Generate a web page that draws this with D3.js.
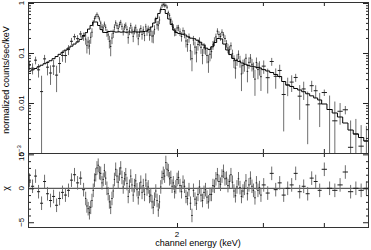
<!DOCTYPE html>
<html><head><meta charset="utf-8">
<script src="https://cdn.jsdelivr.net/npm/d3@7"></script>
<style>body{margin:0;background:#fff}svg{display:block}text{font-family:"Liberation Sans",Arial,sans-serif;fill:#000}</style>
</head><body>
<svg id="c" width="371" height="250"></svg>
<script>
// ---- data ----
// model bins (keV edges) and model values
const modelEdges = [0.990,1.004,1.019,1.033,1.048,1.063,1.078,1.093,1.109,1.125,1.141,1.157,1.173,1.190,1.207,1.224,1.242,1.260,1.278,1.296,
1.311,1.327,1.343,1.359,1.375,1.391,1.408,1.424,1.441,1.458,1.476,1.493,1.511,1.529,1.547,1.566,1.584,1.603,1.622,1.641,1.661,1.681,1.701,1.721,1.741,1.762,1.783,1.804,1.826,1.847,1.869,1.892,1.914,1.937,1.960,1.983,2.007,
2.036,2.065,2.094,2.124,2.154,2.185,2.216,2.248,2.280,2.312,2.345,2.378,2.412,2.447,2.482,2.517,2.553,2.589,2.626,2.664,2.702,2.740,2.779,2.819,2.859,2.900,2.941,2.983,
3.040,3.098,3.157,3.217,3.278,3.341,3.404,3.469,3.535,3.603,3.671,3.741,3.813,3.885,3.959,
4.059,4.161,4.265,4.372,4.482,4.595,4.710,4.829,4.950];

const modelFlux = [0.043,0.046,0.049,0.053,0.057,0.061,0.065,0.070,0.077,0.085,0.094,0.103,0.114,0.125,0.137,0.151,0.167,0.187,0.224,
0.255,0.301,0.356,0.417,0.417,0.355,0.294,0.258,0.257,0.269,0.272,0.266,0.262,0.265,0.261,0.264,0.260,0.263,0.262,0.266,0.264,0.263,0.265,0.269,0.275,0.291,0.331,0.398,0.490,0.617,0.741,0.741,0.617,0.479,0.372,0.288,0.257,
0.245,0.237,0.229,0.211,0.198,0.193,0.180,0.164,0.145,0.125,0.118,0.133,0.162,0.195,0.191,0.151,0.115,0.093,0.078,0.071,0.0675,0.063,0.0596,0.0565,0.0545,0.0530,0.0515,0.0501,
0.0465,0.0437,0.0407,0.0372,0.0339,0.0269,0.0229,0.0214,0.0195,0.0182,0.0168,0.0153,0.0139,0.0126,0.0115,
0.00955,0.00741,0.00631,0.00525,0.00398,0.00288,0.00240,0.00204,0.00174];

// data bins (keV edges)
const dataEdges = [0.990,1.004,1.019,1.033,1.048,1.063,1.078,1.093,1.109,1.125,1.141,1.157,1.173,1.190,1.207,1.224,1.242,1.260,1.278,1.296,
1.3035,1.311,1.319,1.327,1.335,1.343,1.351,1.359,1.367,1.375,1.383,1.391,1.3995,1.408,1.416,1.424,1.4325,1.441,1.4495,1.458,1.467,1.476,1.4845,1.493,1.502,1.511,1.520,1.529,1.538,1.547,1.5565,1.566,1.575,1.584,1.5935,1.603,1.6125,1.622,1.6315,1.641,1.651,1.661,1.671,1.681,1.691,1.701,1.711,1.721,1.731,1.741,1.7515,1.762,1.7725,1.783,1.7935,1.804,1.815,1.826,1.8365,1.847,1.858,1.869,1.8805,1.892,1.903,1.914,1.9255,1.937,1.9485,1.960,1.9715,1.983,1.995,2.007,
2.0215,2.036,2.0505,2.065,2.0795,2.094,2.109,2.124,2.139,2.154,2.1695,2.185,2.2005,2.216,2.232,2.248,2.264,2.280,2.296,2.312,2.3285,2.345,2.3615,2.378,2.395,2.412,2.4295,2.447,2.4645,2.482,2.4995,2.517,2.535,2.553,2.571,2.589,2.6075,2.626,2.645,2.664,2.683,2.702,2.721,2.740,2.7595,2.779,2.799,2.819,2.839,2.859,2.8795,2.900,2.9205,2.941,2.962,2.983,
3.040,3.098,3.157,3.217,3.278,3.341,3.404,3.469,3.535,3.603,3.671,3.741,3.813,3.885,3.959,
4.059,4.161,4.265,4.372,4.482,4.595,4.710,4.829,4.950];

const dataFlux = [0.0574,0.0497,0.0719,0.0461,0.0169,0.0763,0.0520,0.0398,0.0548,0.0361,0.0616,0.0894,0.0889,0.1171,0.1715,0.2114,0.1937,0.2403,0.2159,
0.190,0.142,0.166,0.138,0.206,0.260,0.399,0.487,0.534,0.592,0.536,0.477,0.397,0.332,0.318,0.379,0.326,0.257,0.230,0.172,0.135,0.199,0.247,0.328,0.401,0.352,0.310,0.371,0.410,0.340,0.274,0.334,0.359,0.295,0.203,0.278,0.352,0.287,0.215,0.286,0.319,0.254,0.193,0.258,0.310,0.235,0.289,0.223,0.334,0.270,0.301,0.228,0.275,0.218,0.220,0.296,0.463,0.367,0.360,0.457,0.759,0.883,0.937,0.901,0.898,0.824,0.641,0.566,0.461,0.389,0.327,0.264,0.266,0.317,
0.319,0.264,0.214,0.278,0.243,0.174,0.148,0.203,0.111,0.0768,0.181,0.131,0.101,0.148,0.171,0.130,0.090,0.127,0.1195,0.0893,0.0661,0.0946,0.1067,0.1447,0.1722,0.2096,0.273,0.234,0.214,0.260,0.2303,0.1954,0.1547,0.1256,0.1163,0.1395,0.0963,0.0699,0.0499,0.0748,0.0940,0.0694,0.0381,0.0559,0.0596,0.0786,0.0429,0.0650,0.0790,0.0594,0.0481,0.0300,0.0647,0.0466,0.0518,0.0336,
0.0546,0.0321,0.0676,0.0342,0.0447,0.0148,0.0229,0.0262,0.0324,0.0137,0.0191,0.0092,0.0222,0.0176,0.0096,
0.0162,0.00741,0.0044,0.00683,0.00732,0.0013,0.0024,0.00137,0.00174];

const dataErr = [0.0120,0.0124,0.0127,0.0138,0.0182,0.0153,0.0163,0.0168,0.0185,0.0196,0.0216,0.0227,0.0251,0.0263,0.0288,0.0302,0.0334,0.0355,0.0403,
0.0434,0.0441,0.0450,0.0455,0.0534,0.0528,0.0584,0.0590,0.0584,0.0579,0.0533,0.0538,0.0470,0.0474,0.0464,0.0468,0.0463,0.0459,0.0484,0.0488,0.0490,0.0486,0.0479,0.0483,0.0498,0.0494,0.0504,0.0509,0.0496,0.0500,0.0502,0.0497,0.0494,0.0499,0.0500,0.0505,0.0498,0.0493,0.0505,0.0509,0.0502,0.0498,0.0500,0.0504,0.0504,0.0499,0.0511,0.0507,0.0495,0.0500,0.0524,0.0519,0.0563,0.0568,0.0637,0.0631,0.0686,0.0692,0.0802,0.0796,0.0889,0.0895,0.0889,0.0882,0.0740,0.0746,0.0623,0.0618,0.0558,0.0563,0.0490,0.0486,0.0463,0.0467,
0.0466,0.0462,0.0450,0.0454,0.0458,0.0452,0.0422,0.0426,0.0396,0.0337,0.0386,0.0382,0.0360,0.0364,0.0344,0.0340,0.0305,0.0309,0.0275,0.0271,0.0260,0.0264,0.0293,0.0289,0.0340,0.0344,0.0390,0.0386,0.0382,0.0387,0.0317,0.0313,0.0265,0.0269,0.0233,0.0236,0.0203,0.0200,0.0192,0.0195,0.0189,0.0186,0.0208,0.0176,0.0173,0.0176,0.0170,0.0167,0.0164,0.0167,0.0164,0.0161,0.0165,0.0168,0.0165,0.0162,
0.0163,0.0166,0.0122,0.0149,0.0136,0.0121,0.0092,0.0096,0.0059,0.0091,0.0076,0.0077,0.0056,0.0050,0.0063,
0.0024,0.0067,0.0063,0.00315,0.00139,0.00317,0.0024,0.00224,0.00174];

const chiValues = [1.2,0.3,1.8,-0.5,-2.2,1.0,-0.8,-1.8,-1.2,-2.5,-1.5,-0.6,-1.0,-0.3,1.2,2.0,0.8,1.5,-0.2,
-1.5,-2.6,-3.0,-3.6,-2.8,-1.8,-0.3,1.2,2.0,3.0,3.4,2.3,2.2,0.8,1.3,2.6,1.5,0.0,-0.8,-2.0,-2.8,-1.5,-0.4,1.3,2.8,1.8,0.9,2.1,3.0,1.6,0.2,1.4,2.0,0.7,-1.2,0.3,1.8,0.5,-1.0,0.4,1.1,-0.2,-1.4,-0.1,0.9,-0.6,0.4,-0.9,1.2,-0.1,0.2,-1.2,-1.0,-2.0,-2.8,-1.6,-0.4,-1.8,-3.2,-2.0,0.2,1.6,2.2,1.8,3.8,2.8,2.6,1.4,1.6,0.3,0.8,-0.5,0.2,1.3,
1.6,0.4,-0.5,0.9,0.3,-1.2,-1.5,-0.2,-2.2,-4.0,-0.3,-1.6,-2.2,-0.9,0.2,-1.0,-1.8,-0.6,-0.2,-1.3,-2.0,-0.9,-0.9,0.4,0.3,1.4,2.0,1.0,0.6,1.8,2.5,1.4,1.5,0.4,1.0,2.0,0.9,-0.4,-1.1,0.2,1.4,0.1,-1.2,-0.4,0.0,1.1,-0.8,0.5,1.5,0.3,-0.3,-1.4,0.8,-0.3,0.1,-1.0,
0.5,-0.7,2.2,-0.2,0.8,-1.0,0.0,0.5,2.2,-0.5,0.3,-0.8,1.5,1.0,-0.3,
2.8,0.0,-0.3,0.5,2.4,-0.5,0.0,-0.3,0.0];

const xTickValues = [2, 3, 4];
const xTickLabels = ["2", "", ""];
const yTickValues = [1, 0.1, 0.01, 0.001];
const yTickLabels = ["1", "0.1", "0.01", "10|−3"];
const chiTickValues = [5, 0, -5];
const chiTickLabels = ["5", "0", "−5"];
const energyDomain = [0.99, 4.95];
const fluxDomain = [0.001, 1.047];
const chiDomain = [-5.7, 5.2];

// ---- layout ----
const L = 28, R = 369, T1 = 2, B1 = 153, B2 = 227;
const svg = d3.select("#c");
const x = d3.scaleLog().domain(energyDomain).range([L, R]);
const yF = d3.scaleLog().domain(fluxDomain).range([B1, T1]);
const yC = d3.scaleLinear().domain(chiDomain).range([B2, B1]);

const bins = dataFlux.map((f, i) => ({lo: dataEdges[i], hi: dataEdges[i+1], f, e: dataErr[i], c: chiValues[i]}));
const xc = d => x((d.lo + d.hi) / 2);

const defs = svg.append("defs");
defs.append("clipPath").attr("id","clipT").append("rect").attr("x",L).attr("y",T1).attr("width",R-L).attr("height",B1-T1);
defs.append("clipPath").attr("id","clipB").append("rect").attr("x",L).attr("y",B1).attr("width",R-L).attr("height",B2-B1);

const vCol = "#6e6e6e", hCol = "#1e1e1e";

// top panel
const gT = svg.append("g").attr("clip-path","url(#clipT)");
gT.selectAll("line.ev").data(bins).join("line").attr("class","ev")
  .attr("x1", xc).attr("x2", xc)
  .attr("y1", d => yF(d.f + d.e))
  .attr("y2", d => d.f - d.e > 0 ? yF(d.f - d.e) : B1 + 5)
  .attr("stroke", vCol).attr("stroke-width", 1);
gT.selectAll("line.eh").data(bins).join("line").attr("class","eh")
  .attr("x1", d => x(d.lo)).attr("x2", d => x(d.hi))
  .attr("y1", d => yF(d.f)).attr("y2", d => yF(d.f))
  .attr("stroke", hCol).attr("stroke-width", 1);
const stepPts = modelFlux.map((m, i) => [modelEdges[i], m]);
stepPts.push([modelEdges[modelEdges.length-1], modelFlux[modelFlux.length-1]]);
gT.append("path").attr("d", d3.line().x(d => x(d[0])).y(d => yF(d[1])).curve(d3.curveStepAfter)(stepPts))
  .attr("fill","none").attr("stroke","#000").attr("stroke-width",1);

// bottom panel
const gB = svg.append("g").attr("clip-path","url(#clipB)");
gB.append("line").attr("x1",L).attr("x2",R).attr("y1",yC(0)).attr("y2",yC(0)).attr("stroke","#333");
gB.selectAll("line.cv").data(bins).join("line").attr("class","cv")
  .attr("x1", xc).attr("x2", xc)
  .attr("y1", d => yC(d.c + 1)).attr("y2", d => yC(d.c - 1))
  .attr("stroke", vCol);
gB.selectAll("line.ch").data(bins).join("line").attr("class","ch")
  .attr("x1", d => x(d.lo)).attr("x2", d => x(d.hi))
  .attr("y1", d => yC(d.c)).attr("y2", d => yC(d.c))
  .attr("stroke", hCol);

// axes / ticks
function ax(gen, tx, ty) {
  svg.append("g").attr("transform", `translate(${tx},${ty})`).attr("color","#222").call(gen)
    .call(g => g.select(".domain").remove());
}
const minorF = yF.ticks().filter(v => !yTickValues.some(t => Math.abs(t - v) < 1e-9));
const minorC = d3.range(-5, 6).filter(v => !chiTickValues.includes(v));
ax(d3.axisLeft(yF).tickValues(yTickValues).tickSize(-6).tickFormat(""), L, 0);
ax(d3.axisLeft(yF).tickValues(minorF).tickSize(-3).tickFormat(""), L, 0);
ax(d3.axisRight(yF).tickValues(yTickValues).tickSize(-6).tickFormat(""), R, 0);
ax(d3.axisRight(yF).tickValues(minorF).tickSize(-3).tickFormat(""), R, 0);
ax(d3.axisLeft(yC).tickValues(chiTickValues).tickSize(-6).tickFormat(""), L, 0);
ax(d3.axisLeft(yC).tickValues(minorC).tickSize(-3).tickFormat(""), L, 0);
ax(d3.axisRight(yC).tickValues(chiTickValues).tickSize(-6).tickFormat(""), R, 0);
ax(d3.axisRight(yC).tickValues(minorC).tickSize(-3).tickFormat(""), R, 0);
ax(d3.axisTop(x).tickValues(xTickValues).tickSize(-4).tickFormat(""), 0, T1);
ax(d3.axisBottom(x).tickValues(xTickValues).tickSize(-4).tickFormat(""), 0, B1);
ax(d3.axisTop(x).tickValues(xTickValues).tickSize(-4).tickFormat(""), 0, B1);
ax(d3.axisBottom(x).tickValues(xTickValues).tickSize(-4).tickFormat(""), 0, B2);

// frames
svg.append("rect").attr("x",L+0.5).attr("y",T1+0.5).attr("width",R-L-1).attr("height",B1-T1)
  .attr("fill","none").attr("stroke","#333");
svg.append("rect").attr("x",L+0.5).attr("y",B1+0.5).attr("width",R-L-1).attr("height",B2-B1)
  .attr("fill","none").attr("stroke","#333");

// tick labels
yTickValues.forEach((v, i) => {
  const t = svg.append("text").attr("transform", `translate(24,${yF(v)}) rotate(-90)`)
    .attr("text-anchor","middle").attr("font-size", 8);
  const parts = yTickLabels[i].split("|");
  t.append("tspan").text(parts[0]);
  if (parts[1]) t.append("tspan").attr("dy",-3).attr("font-size",6).text(parts[1]);
});
chiTickValues.forEach((v, i) => {
  svg.append("text").attr("transform", `translate(24,${yC(v)}) rotate(-90)`)
    .attr("text-anchor","middle").attr("font-size", 8).text(chiTickLabels[i]);
});
xTickValues.forEach((v, i) => {
  if (xTickLabels[i]) svg.append("text").attr("x", x(v)).attr("y", 237)
    .attr("text-anchor","middle").attr("font-size", 8).text(xTickLabels[i]);
});

// titles
svg.append("text").attr("x", 198).attr("y", 246).attr("text-anchor","middle").attr("font-size", 9)
  .text("channel energy (keV)");
svg.append("text").attr("transform", "translate(9,80) rotate(-90)").attr("text-anchor","middle")
  .attr("font-size", 9).text("normalized counts/sec/keV");
svg.append("text").attr("transform", `translate(9,${yC(0)}) rotate(-90)`).attr("text-anchor","middle")
  .attr("font-size", 9).text("χ");
</script>
</body></html>
